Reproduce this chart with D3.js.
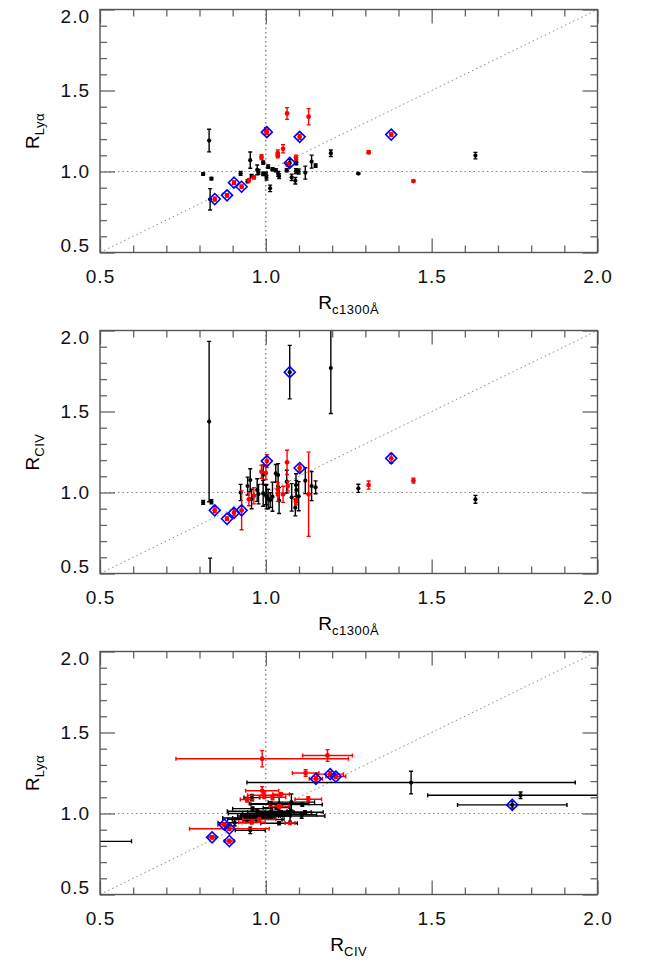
<!DOCTYPE html>
<html>
<head>
<meta charset="utf-8">
<script src="https://cdn.jsdelivr.net/npm/d3@7"></script>
<style>
  body { margin: 0; background: #fff; }
  svg { display: block; font-family: "Liberation Sans", Arial, sans-serif; }
</style>
</head>
<body>
<div id="chart"></div>
<script>
// ===== data : one entry per object, shared by all three panels
var rcVals  = [0.829,0.811,0.836,0.832,0.924,0.953,0.957,0.945,0.974,0.978,0.992,0.992,1.000,1.002,1.007,1.020,1.030,1.013,1.037,1.040,1.063,1.072,1.078,1.089,1.091,1.099,1.092,1.119,1.138,1.150,1.196,1.279,1.632,
               1.064,1.129,1.052,1.036,1.036,0.987,1.091,0.964,0.949,1.310,1.445,1.000,1.066,
               0.846,0.883,0.904,0.927,1.003,1.102,1.378];
var lyaVals = [1.191,0.985,0.956,0.828,0.989,1.070,0.972,0.940,1.010,0.997,1.055,0.985,0.985,0.962,1.030,1.014,1.008,0.896,0.985,0.972,1.008,1.053,0.964,0.943,1.003,1.000,1.057,0.993,1.061,1.036,1.113,0.987,1.098,
               1.358,1.338,1.140,1.113,1.100,1.088,1.086,0.964,0.946,1.119,0.941,1.250,1.044,
               0.830,0.853,0.931,0.906,1.243,1.214,1.228];
var lyaErrs = [0.070,0.008,0.008,0.066,0.012,0.050,0.010,0.010,0.030,0.015,0.010,0.010,0.010,0.015,0.010,0.010,0.010,0.020,0.015,0.015,0.010,0.020,0.020,0.020,0.015,0.015,0.015,0.040,0.040,0.010,0.020,0.005,0.020,
               0.036,0.050,0.025,0.020,0.015,0.015,0.015,0.010,0.010,0.010,0.005,0.020,0.010,
               0.012,0.010,0.010,0.010,0.015,0.015,0.010];
var civVals = [1.438,0.939,0.943,0.200,1.000,1.077,0.960,1.040,1.015,0.990,1.110,0.995,0.984,0.974,0.960,0.974,1.118,0.953,1.108,0.950,1.067,1.743,0.970,0.906,1.046,0.977,1.015,1.073,1.040,1.032,1.768,1.026,0.958,
               1.186,0.989,0.989,0.995,1.020,1.128,0.943,0.980,0.958,1.046,1.073,1.120,1.040,
               0.890,0.838,0.875,0.890,1.194,1.151,1.211];
var civErrs = [0.495,0.012,0.012,0.395,0.050,0.070,0.060,0.055,0.070,0.060,0.060,0.080,0.060,0.075,0.060,0.090,0.055,0.045,0.070,0.080,0.070,0.165,0.085,0.050,0.070,0.090,0.060,0.080,0.090,0.040,0.280,0.025,0.024,
               0.075,0.260,0.050,0.050,0.040,0.040,0.020,0.050,0.040,0.025,0.015,0.040,0.030,
               0.015,0.010,0.020,0.120,0.040,0.020,0.030];
// "k" = black sample, "r" = red sample
var groups  = d3.range(33).map(function() { return "k"; })
               .concat(d3.range(20).map(function() { return "r"; }));
// objects circled with a blue diamond
var flagged = [21, 46, 47, 48, 49, 50, 51, 52];

var majorTicks = [0.5, 1.0, 1.5, 2.0];
var minorTicks = d3.range(6, 20).map(function(v) { return v / 10; }).filter(function(v) { return v % 0.5 !== 0; });

var rows = rcVals.map(function(d, i) {
    return { rc: d, lya: lyaVals[i], lyaErr: lyaErrs[i], civ: civVals[i], civErr: civErrs[i],
             grp: groups[i], flag: flagged.indexOf(i) >= 0 };
});

// ===== layout
var svgWidth = 664, svgHeight = 973;
var plotLeft = 100, plotWidth = 497.5, plotHeight = 243;
var panelTops = [9.5, 330.5, 651.5];

var svg = d3.select("#chart").append("svg")
    .attr("width", svgWidth)
    .attr("height", svgHeight);

var panels = [
    { xKey: "rc",  yKey: "lya", xErr: null,     yErr: "lyaErr", xSub: "c1300Å", ySub: "Lyα" },
    { xKey: "rc",  yKey: "civ", xErr: null,     yErr: "civErr", xSub: "c1300Å", ySub: "CIV" },
    { xKey: "civ", yKey: "lya", xErr: "civErr", yErr: "lyaErr", xSub: "CIV",    ySub: "Lyα" }
];

panels.forEach(function(p, pi) {
    var top = panelTops[pi];
    var g = svg.append("g").attr("transform", "translate(" + plotLeft + "," + top + ")");

    var x = d3.scaleLinear().domain([0.5, 2.0]).range([0, plotWidth]);
    var y = d3.scaleLinear().domain([0.5, 2.0]).range([plotHeight, 0]);

    var clipId = "clip" + pi;
    g.append("clipPath").attr("id", clipId)
        .append("rect").attr("width", plotWidth).attr("height", plotHeight);

    // ----- reference lines
    var ref = g.append("g").attr("clip-path", "url(#" + clipId + ")")
        .attr("stroke", "#888").attr("stroke-width", 1).attr("stroke-dasharray", "1.5,3");
    ref.append("line").attr("x1", x(1)).attr("x2", x(1)).attr("y1", 0).attr("y2", plotHeight).attr("stroke", "#555");
    ref.append("line").attr("x1", 0).attr("x2", plotWidth).attr("y1", y(1)).attr("y2", y(1));
    ref.append("line").attr("x1", x(0.5)).attr("y1", y(0.5)).attr("x2", x(2)).attr("y2", y(2));

    // ----- data marks
    var marks = g.append("g").attr("clip-path", "url(#" + clipId + ")");
    var ordered = rows.filter(function(d) { return d.grp === "k"; })
        .concat(rows.filter(function(d) { return d.grp === "r"; }));

    var pts = marks.selectAll("g.pt").data(ordered).enter().append("g").attr("class", "pt")
        .attr("stroke", function(d) { return d.grp === "r" ? "#ff0000" : "#000"; })
        .attr("fill", function(d) { return d.grp === "r" ? "#ff0000" : "#000"; })
        .attr("stroke-width", 1.4);

    var cap = 2;
    // vertical error bars
    pts.append("line")
        .attr("x1", function(d) { return x(d[p.xKey]); })
        .attr("x2", function(d) { return x(d[p.xKey]); })
        .attr("y1", function(d) { return y(d[p.yKey] - d[p.yErr]); })
        .attr("y2", function(d) { return y(d[p.yKey] + d[p.yErr]); });
    [-1, 1].forEach(function(s) {
        pts.append("line")
            .attr("x1", function(d) { return x(d[p.xKey]) - cap; })
            .attr("x2", function(d) { return x(d[p.xKey]) + cap; })
            .attr("y1", function(d) { return y(d[p.yKey] + s * d[p.yErr]); })
            .attr("y2", function(d) { return y(d[p.yKey] + s * d[p.yErr]); });
    });
    // horizontal error bars (bottom panel only)
    if (p.xErr) {
        pts.append("line")
            .attr("x1", function(d) { return x(d[p.xKey] - d[p.xErr]); })
            .attr("x2", function(d) { return x(d[p.xKey] + d[p.xErr]); })
            .attr("y1", function(d) { return y(d[p.yKey]); })
            .attr("y2", function(d) { return y(d[p.yKey]); });
        [-1, 1].forEach(function(s) {
            pts.append("line")
                .attr("x1", function(d) { return x(d[p.xKey] + s * d[p.xErr]); })
                .attr("x2", function(d) { return x(d[p.xKey] + s * d[p.xErr]); })
                .attr("y1", function(d) { return y(d[p.yKey]) - cap; })
                .attr("y2", function(d) { return y(d[p.yKey]) + cap; });
        });
    }
    pts.append("circle")
        .attr("cx", function(d) { return x(d[p.xKey]); })
        .attr("cy", function(d) { return y(d[p.yKey]); })
        .attr("r", function(d) { return d.grp === "r" ? 2.4 : 2.1; })
        .attr("stroke", "none");

    // blue diamonds
    var dsz = 5.5;
    marks.selectAll("path.dia").data(rows.filter(function(d) { return d.flag; })).enter()
        .append("path").attr("class", "dia")
        .attr("d", function(d) {
            var cx = x(d[p.xKey]), cy = y(d[p.yKey]);
            return "M" + cx + "," + (cy - dsz) + "L" + (cx + dsz) + "," + cy +
                   "L" + cx + "," + (cy + dsz) + "L" + (cx - dsz) + "," + cy + "Z";
        })
        .attr("fill", "none").attr("stroke", "#0000ff").attr("stroke-width", 1.6);

    // ----- axes (ticks on all four sides, pointing inward)
    function styleAxis(sel) {
        sel.select(".domain").remove();
        sel.selectAll(".tick line").attr("stroke", "#666").attr("stroke-width", 1.3);
        sel.selectAll(".tick text").attr("fill", "#111").style("font-size", "19px")
            .style("letter-spacing", "1px").style("font-family", "'Liberation Sans', Arial, sans-serif");
    }
    var fmt = d3.format(".1f");

    g.append("g").attr("transform", "translate(0," + plotHeight + ")")
        .call(d3.axisBottom(x).tickValues(majorTicks).tickSize(-14).tickPadding(17).tickFormat(fmt))
        .call(styleAxis);
    g.append("g").attr("transform", "translate(0," + plotHeight + ")")
        .call(d3.axisBottom(x).tickValues(minorTicks).tickSize(-7).tickFormat(""))
        .call(styleAxis);
    g.append("g")
        .call(d3.axisTop(x).tickValues(majorTicks).tickSize(-14).tickFormat(""))
        .call(styleAxis);
    g.append("g")
        .call(d3.axisTop(x).tickValues(minorTicks).tickSize(-7).tickFormat(""))
        .call(styleAxis);

    var yAx = g.append("g")
        .call(d3.axisLeft(y).tickValues(majorTicks).tickSize(-15).tickPadding(10).tickFormat(fmt))
        .call(styleAxis);
    // end labels are pulled inside the axis span
    yAx.selectAll(".tick text").attr("y", function(d) {
        if (d === 2.0) return 7;
        if (d === 0.5) return -7;
        return 0;
    });
    g.append("g")
        .call(d3.axisLeft(y).tickValues(minorTicks).tickSize(-7).tickFormat(""))
        .call(styleAxis);
    g.append("g").attr("transform", "translate(" + plotWidth + ",0)")
        .call(d3.axisRight(y).tickValues(majorTicks).tickSize(-15).tickFormat(""))
        .call(styleAxis);
    g.append("g").attr("transform", "translate(" + plotWidth + ",0)")
        .call(d3.axisRight(y).tickValues(minorTicks).tickSize(-7).tickFormat(""))
        .call(styleAxis);

    // frame
    g.append("rect").attr("width", plotWidth).attr("height", plotHeight)
        .attr("fill", "none").attr("stroke", "#555").attr("stroke-width", 1.4);

    // ----- axis titles
    var xt = g.append("text")
        .attr("x", plotWidth / 2).attr("y", plotHeight + 56)
        .attr("text-anchor", "middle").attr("fill", "#000").style("font-size", "19px");
    xt.append("tspan").text("R");
    xt.append("tspan").attr("dy", 5).style("font-size", "13px").style("letter-spacing", "0.5px").text(p.xSub);

    var yt = g.append("text")
        .attr("transform", "translate(-61," + (plotHeight / 2) + ") rotate(-90)")
        .attr("text-anchor", "middle").attr("fill", "#000").style("font-size", "19px");
    yt.append("tspan").text("R");
    yt.append("tspan").attr("dy", 5).style("font-size", "13px").style("letter-spacing", "0.5px").text(p.ySub);
});
</script>
</body>
</html>
